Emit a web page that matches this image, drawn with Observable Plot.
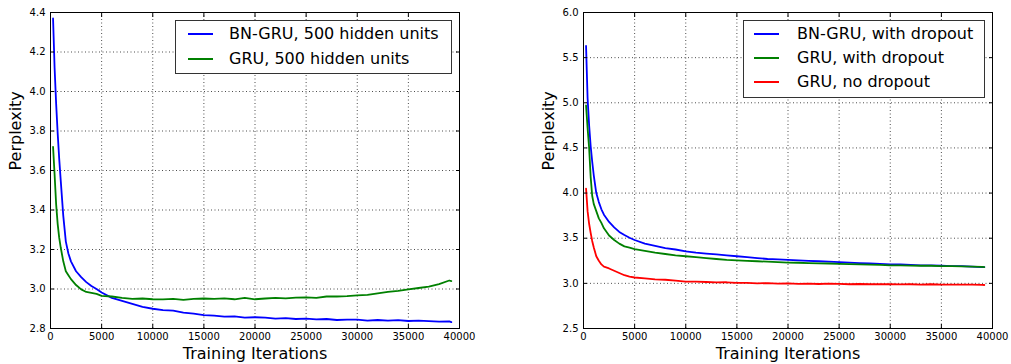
<!DOCTYPE html>
<html><head><meta charset="utf-8">
<script src="https://cdn.jsdelivr.net/npm/d3@7"></script>
<script src="https://cdn.jsdelivr.net/npm/@observablehq/plot@0.6"></script>
<style>
body{margin:0;background:#fff;font-family:"DejaVu Sans",sans-serif;}
#wrap{position:relative;width:1011px;height:364px;overflow:hidden;}
.panel{position:absolute;top:0;}
.legend{position:absolute;border:1px solid #333;background:#fff;box-sizing:border-box;}
.row{position:absolute;left:0;height:20px;font-size:16px;line-height:20px;color:#000;white-space:nowrap;}
.sw{position:absolute;top:9px;height:2px;}
.lab{position:absolute;top:0;}
</style></head>
<body><div id="wrap"></div>
<script>
// ---- data ----
const iterations = [250,400,550,700,850,1000,1250,1500,1750,2000,2500,3000,3500,4000,4500,5000,
  6000,7000,8000,9000,10000,11000,12000,13000,14000,15000,16000,17000,18000,19000,20000,
  21000,22000,23000,24000,25000,26000,27000,28000,29000,30000,31000,32000,33000,34000,35000,
  36000,37000,38000,39000,39200];

const xTicks = [0,5000,10000,15000,20000,25000,30000,35000,40000];

// Left panel
const leftNames = ["BN-GRU, 500 hidden units","GRU, 500 hidden units"];
const leftColors = ["#0000ff","#008000"];
const leftYTicks = [2.8,3.0,3.2,3.4,3.6,3.8,4.0,4.2,4.4];
const bnGru500 = [4.37,4.12,3.94,3.79,3.66,3.55,3.37,3.24,3.18,3.14,3.09,3.06,3.035,3.015,3.0,2.982,
  2.955,2.94,2.925,2.91,2.90,2.893,2.89,2.88,2.875,2.868,2.865,2.86,2.861,2.855,2.857,
  2.855,2.85,2.853,2.848,2.85,2.846,2.848,2.843,2.845,2.845,2.84,2.843,2.84,2.842,2.838,
  2.84,2.837,2.835,2.836,2.832];
const gru500 = [3.72,3.58,3.43,3.33,3.26,3.21,3.14,3.09,3.07,3.05,3.02,2.998,2.985,2.98,2.975,2.965,
  2.962,2.955,2.95,2.952,2.948,2.947,2.95,2.945,2.95,2.952,2.95,2.953,2.948,2.955,2.948,
  2.952,2.955,2.953,2.956,2.958,2.955,2.962,2.962,2.964,2.968,2.97,2.978,2.985,2.99,2.998,
  3.005,3.012,3.025,3.043,3.04];

// Right panel
const rightNames = ["BN-GRU, with dropout","GRU, with dropout","GRU, no dropout"];
const rightColors = ["#0000ff","#008000","#ff0000"];
const rightYTicks = [2.5,3.0,3.5,4.0,4.5,5.0,5.5,6.0];
const bnGruDrop = [5.63,5.05,4.75,4.52,4.35,4.20,4.00,3.90,3.82,3.76,3.68,3.62,3.57,3.535,3.505,3.48,
  3.44,3.415,3.39,3.375,3.355,3.34,3.33,3.32,3.31,3.30,3.29,3.28,3.27,3.265,3.26,
  3.255,3.25,3.245,3.24,3.235,3.23,3.225,3.22,3.215,3.21,3.21,3.205,3.20,3.20,3.195,
  3.19,3.19,3.185,3.18,3.18];
const gruDrop = [4.97,4.72,4.50,4.18,3.97,3.88,3.80,3.72,3.67,3.61,3.53,3.48,3.44,3.41,3.395,3.38,
  3.36,3.34,3.325,3.31,3.30,3.29,3.28,3.27,3.26,3.255,3.25,3.245,3.24,3.235,3.23,
  3.228,3.225,3.222,3.22,3.215,3.212,3.21,3.207,3.205,3.20,3.20,3.197,3.195,3.195,3.19,
  3.19,3.187,3.185,3.182,3.18];
const gruNoDrop = [4.05,3.80,3.66,3.56,3.47,3.40,3.30,3.25,3.21,3.185,3.165,3.14,3.115,3.09,3.075,3.065,
  3.055,3.045,3.04,3.03,3.02,3.02,3.015,3.01,3.012,3.005,3.005,3.0,3.003,2.998,3.0,
  2.995,2.998,2.993,2.996,2.995,2.99,2.993,2.99,2.992,2.99,2.988,2.99,2.987,2.99,2.985,
  2.987,2.985,2.986,2.983,2.982];

function panel({width, marginLeft, marginRight, yDomain, yTicks, names, colors, series}) {
  const data = series.flatMap((vals, s) => vals.map((v, i) => ({x: iterations[i], y: v, name: names[s]})));
  const grid = {stroke: "black", strokeOpacity: 1, strokeWidth: 0.7, strokeDasharray: "1,2.5"};
  return Plot.plot({
    width, height: 364, marginTop: 12, marginBottom: 36, marginLeft, marginRight,
    style: {fontFamily: "DejaVu Sans", fontSize: "10px", color: "black", background: "white"},
    x: {domain: [0, 40000]},
    y: {domain: yDomain},
    color: {domain: names, range: colors},
    marks: [
      Plot.gridX(xTicks, grid),
      Plot.gridY(yTicks, grid),
      Plot.line(data, {x: "x", y: "y", stroke: "name", strokeWidth: 1.8}),
      Plot.frame({stroke: "black", strokeWidth: 1}),
      Plot.axisX(xTicks, {anchor: "bottom", tickSize: -4, tickFormat: () => "", label: null}),
      Plot.axisX(xTicks, {anchor: "top", tickSize: -4, tickFormat: () => "", label: null}),
      Plot.axisY(yTicks, {anchor: "left", tickSize: -4, tickFormat: () => "", label: null}),
      Plot.axisY(yTicks, {anchor: "right", tickSize: -4, tickFormat: () => "", label: null}),
      Plot.axisX(xTicks, {anchor: "bottom", tickSize: 0, tickPadding: 4, tickFormat: d => String(d), label: null, fontSize: 10}),
      Plot.axisY(yTicks, {anchor: "left", tickSize: 0, tickPadding: 5, tickFormat: d3.format(".1f"), label: null, fontSize: 10}),
      Plot.text(["Training Iterations"], {frameAnchor: "bottom", dy: 30, fontSize: 16, fill: "black"}),
      Plot.text(["Perplexity"], {frameAnchor: "left", rotate: -90, dx: -35, fontSize: 16, fill: "black"})
    ]
  });
}

function legend(names, colors, box) {
  const el = document.createElement("div");
  el.className = "legend";
  Object.assign(el.style, {left: box.left + "px", top: box.top + "px", width: box.width + "px", height: box.height + "px"});
  names.forEach((n, i) => {
    const row = document.createElement("div");
    row.className = "row";
    row.style.top = (box.rowTop + i * box.rowStep) + "px";
    const sw = document.createElement("div");
    sw.className = "sw";
    Object.assign(sw.style, {left: box.swLeft + "px", width: "25px", background: colors[i]});
    const lab = document.createElement("div");
    lab.className = "lab";
    lab.style.left = box.textLeft + "px";
    lab.textContent = n;
    row.append(sw, lab);
    el.append(row);
  });
  return el;
}

const wrap = document.getElementById("wrap");
const left = panel({width: 520, marginLeft: 50, marginRight: 61, yDomain: [2.8, 4.4], yTicks: leftYTicks,
  names: leftNames, colors: leftColors, series: [bnGru500, gru500]});
left.classList.add("panel"); left.style.left = "0px";
const right = panel({width: 491, marginLeft: 63, marginRight: 19, yDomain: [2.5, 6.0], yTicks: rightYTicks,
  names: rightNames, colors: rightColors, series: [bnGruDrop, gruDrop, gruNoDrop]});
right.classList.add("panel"); right.style.left = "520px";
wrap.append(left, right);
wrap.append(legend(leftNames, leftColors, {left: 175, top: 20, width: 277, height: 54, rowTop: 3, rowStep: 24.5, swLeft: 12, textLeft: 53}));
wrap.append(legend(rightNames, rightColors, {left: 743, top: 20, width: 242, height: 78, rowTop: 3, rowStep: 24, swLeft: 10, textLeft: 53}));
</script></body></html>
